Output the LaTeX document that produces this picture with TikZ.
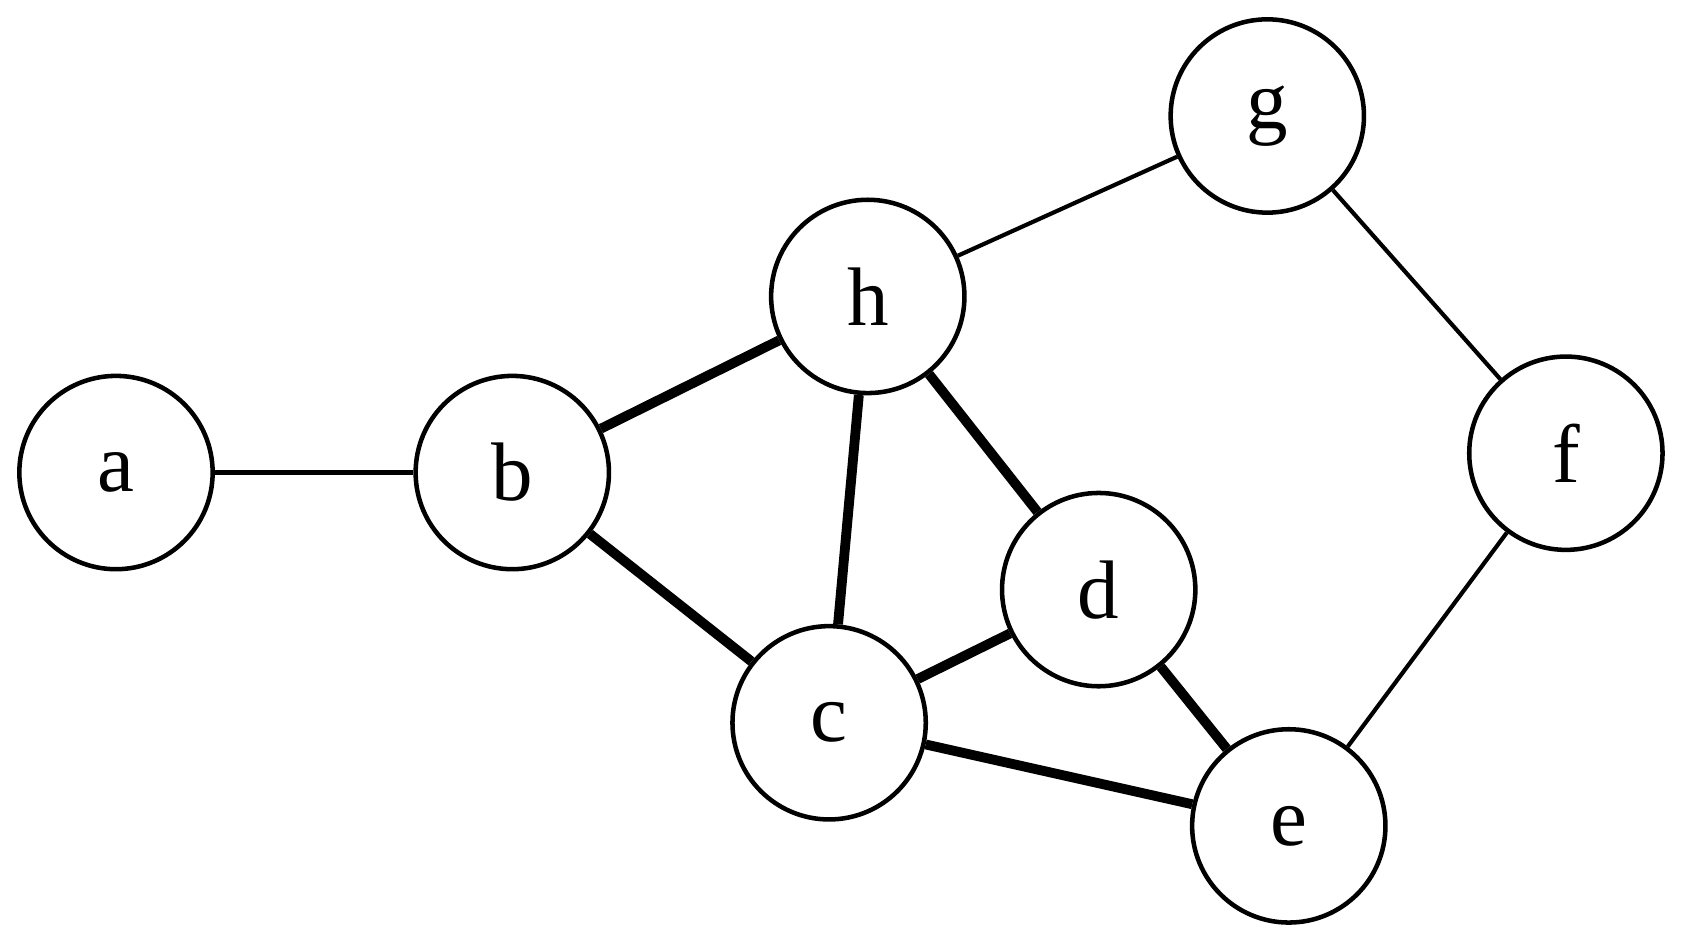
\documentclass[tikz,border=0pt]{standalone}
\usepackage{fontspec}
\setmainfont{Liberation Serif}
\tikzset{
  vertex/.style={circle,draw,line width=1.2pt,fill=white,minimum size=1.8cm,inner sep=0pt,font=\fontsize{22}{22}\selectfont},
  thin edge/.style={line width=1.1pt},
  thick edge/.style={line width=2.6pt}
}
\begin{document}
\begin{tikzpicture}
\useasboundingbox (0,0) rectangle (15.68,8.8);
\node[vertex] (a) at (1.08,4.40) {a};
\node[vertex] (b) at (4.77,4.40) {b};
\node[vertex] (h) at (8.08,6.04) {h};
\node[vertex] (g) at (11.80,7.72) {g};
\node[vertex] (f) at (14.58,4.58) {f};
\node[vertex] (d) at (10.23,3.31) {d};
\node[vertex] (c) at (7.72,2.07) {c};
\node[vertex] (e) at (12.00,1.11) {e};
\draw[thin edge] (a) -- (b);
\draw[thin edge] (h) -- (g);
\draw[thin edge] (g) -- (f);
\draw[thin edge] (f) -- (e);
\draw[thick edge] (b) -- (h);
\draw[thick edge] (b) -- (c);
\draw[thick edge] (h) -- (c);
\draw[thick edge] (h) -- (d);
\draw[thick edge] (c) -- (d);
\draw[thick edge] (d) -- (e);
\draw[thick edge] (c) -- (e);
\end{tikzpicture}
\end{document}
